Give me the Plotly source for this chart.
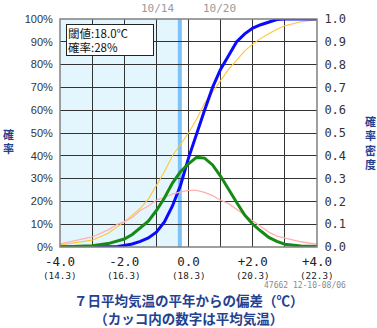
import plotly.graph_objects as go

# ---- data ----
x_anom = [-4, -3.5, -3, -2.5, -2.2, -2, -1.75, -1.5, -1.25, -1, -0.75, -0.5, -0.25,
          0, 0.25, 0.5, 0.75, 1, 1.25, 1.5, 1.75, 2, 2.25, 2.5, 2.75, 3, 3.5, 4]

# forecast cumulative probability (%), thick blue
fc_cdf = [0, 0, 0, 0, 0.2, 0.7, 1.3, 2.5, 4, 6.5, 11, 18, 27,
          39, 50, 60, 70, 78, 84, 90, 93.5, 96, 97.5, 98.6, 99.8, 100, 100, 100]
# forecast probability density, thick green
fc_pdf = [0, 0.002, 0.006, 0.015, 0.025, 0.035, 0.055, 0.082, 0.113, 0.16, 0.215, 0.28, 0.33,
          0.365, 0.393, 0.39, 0.36, 0.31, 0.25, 0.195, 0.14, 0.10, 0.07, 0.042, 0.025, 0.012, 0.004, 0.002]
# climatological cumulative probability (%), thin orange
cl_cdf = [0.9, 1.8, 3, 6, 9, 11, 14, 17, 21, 27, 33, 40, 45,
          50, 56, 63, 68, 73, 78, 82, 86, 89, 91.5, 93.5, 95.5, 97, 98.8, 99.7]
# climatological probability density, thin pink
cl_pdf = [0.014, 0.028, 0.044, 0.075, 0.10, 0.11, 0.13, 0.16, 0.18, 0.205, 0.22, 0.232, 0.242,
          0.248, 0.248, 0.24, 0.225, 0.205, 0.19, 0.165, 0.14, 0.117, 0.09, 0.065, 0.048, 0.04, 0.023, 0.012]

threshold_anom = -0.27
threshold_text = "閾値:18.0℃"
prob_text = "確率:28%"

x_tick_vals = [-4, -3, -2, -1, 0, 1, 2, 3, 4]
x_tick_text = ["-4.0", "", "-2.0", "", "0.0", "", "+2.0", "", "+4.0"]
temp_vals = [-4, -2, 0, 2, 4]
temp_text = ["(14.3)", "(16.3)", "(18.3)", "(20.3)", "(22.3)"]
date_left, date_right = "10/14", "10/20"
station_text = "47662 12-10-08/06"
title_lines = ["７日平均気温の平年からの偏差（℃）", "（カッコ内の数字は平均気温）"]
left_label = "確率"
right_label = "確率密度"

# ---- figure ----
W, H = 377, 328
L, R, T, B = 60, 60, 15, 81
PW, PH = W - L - R, H - T - B


def px(xp):
    return (xp - L) / PW


def py(yp):
    return (H - B - yp) / PH


navy = "#24418f"
grid = "#333333"
fig = go.Figure()

fig.add_trace(go.Scatter(x=x_anom, y=cl_pdf, yaxis="y2", mode="lines",
                         line=dict(color="#ffb0b0", width=1.3), hoverinfo="skip"))
fig.add_trace(go.Scatter(x=x_anom, y=cl_cdf, mode="lines",
                         line=dict(color="#ffc53a", width=1.1), hoverinfo="skip"))
fig.add_trace(go.Scatter(x=x_anom, y=fc_pdf, yaxis="y2", mode="lines",
                         line=dict(color="#168a16", width=3), hoverinfo="skip"))
fig.add_trace(go.Scatter(x=x_anom, y=fc_cdf, mode="lines",
                         line=dict(color="#0a0aff", width=3), hoverinfo="skip"))
# threshold markers
fig.add_trace(go.Scatter(x=[threshold_anom], y=[103.6], mode="markers", cliponaxis=False,
                         marker=dict(symbol="triangle-down", size=9, color="#333333"),
                         hoverinfo="skip"))
fig.add_trace(go.Scatter(x=[threshold_anom], y=[-3.4], mode="markers", cliponaxis=False,
                         marker=dict(symbol="triangle-up", size=9, color="#8a8a8a"),
                         hoverinfo="skip"))

shapes = [
    dict(type="rect", xref="x", yref="paper", x0=-4, x1=threshold_anom, y0=0, y1=1,
         fillcolor="#e4f6fd", line_width=0, layer="below"),
    dict(type="line", xref="x", yref="paper", x0=threshold_anom, x1=threshold_anom, y0=0, y1=1,
         line=dict(color="#7ec3f7", width=4), layer="between"),
    dict(type="rect", xref="paper", yref="paper", x0=0, x1=1, y0=0, y1=1,
         line=dict(color="#808080", width=1.5), layer="above"),
]

ann = []
ann.append(dict(xref="paper", yref="paper", x=px(66), y=py(20), xanchor="left", yanchor="top",
                text=threshold_text + "<br>" + prob_text, align="left", showarrow=False,
                width=84, height=28, borderpad=1, bordercolor="#222222", borderwidth=1,
                bgcolor="white", font=dict(family="Noto Sans CJK JP", size=11.5, color="#111111")))
ann.append(dict(xref="paper", yref="paper", x=px(176), y=py(4), xanchor="right", yanchor="middle",
                text=date_left, showarrow=False,
                font=dict(family="DejaVu Sans Mono", size=11, color="#9a9a9a")))
ann.append(dict(xref="paper", yref="paper", x=px(201), y=py(4), xanchor="left", yanchor="middle",
                text=date_right, showarrow=False,
                font=dict(family="DejaVu Sans Mono", size=11, color="#9a9a9a")))
for v, t in zip(temp_vals, temp_text):
    ann.append(dict(xref="x", yref="paper", x=v, y=py(276.5), xanchor="center", yanchor="middle",
                    text=t, showarrow=False,
                    font=dict(family="DejaVu Sans Mono", size=9.3, color="#222222")))
ann.append(dict(xref="paper", yref="paper", x=px(348), y=py(286), xanchor="right", yanchor="middle",
                text=station_text, showarrow=False,
                font=dict(family="DejaVu Sans Mono", size=8, color="#8a8a8a")))
ann.append(dict(xref="paper", yref="paper", x=px(188.5), y=py(310.5),
                xanchor="center", yanchor="middle",
                text="<b>" + "<br>".join(title_lines) + "</b>", showarrow=False,
                font=dict(family="Noto Sans CJK JP", size=13.5, color=navy)))
ann.append(dict(xref="paper", yref="paper", x=px(8), y=py(139), xanchor="center", yanchor="middle",
                text="<b>" + "<br>".join(left_label) + "</b>", showarrow=False,
                font=dict(family="Noto Sans CJK JP", size=11, color=navy)))
ann.append(dict(xref="paper", yref="paper", x=px(370), y=py(141), xanchor="center", yanchor="middle",
                text="<b>" + "<br>".join(right_label) + "</b>", showarrow=False,
                font=dict(family="Noto Sans CJK JP", size=11, color=navy)))

fig.update_layout(
    width=W, height=H, margin=dict(l=L, r=R, t=T, b=B, pad=0),
    paper_bgcolor="white", plot_bgcolor="white", showlegend=False,
    xaxis=dict(range=[-4, 4], tickvals=x_tick_vals, ticktext=x_tick_text,
               showgrid=True, gridcolor=grid, gridwidth=1, zeroline=False,
               ticks="outside", ticklen=3, tickcolor="rgba(0,0,0,0)",
               tickfont=dict(family="DejaVu Sans Mono", size=12.5, color="#222222"),
               fixedrange=True),
    yaxis=dict(range=[0, 100], dtick=10, ticksuffix="%", showgrid=True, gridcolor=grid,
               gridwidth=1, zeroline=False, ticks="outside", ticklen=4,
               tickcolor="rgba(0,0,0,0)",
               tickfont=dict(family="Liberation Sans", size=11, color="#333333")),
    yaxis2=dict(range=[0, 1], dtick=0.1, tickformat=".1f", overlaying="y", side="right",
                showgrid=False, zeroline=False, ticks="outside", ticklen=4,
                tickcolor="rgba(0,0,0,0)",
                tickfont=dict(family="DejaVu Sans Mono", size=12, color="#333333")),
    shapes=shapes, annotations=ann,
)

fig.write_html("out.html")
